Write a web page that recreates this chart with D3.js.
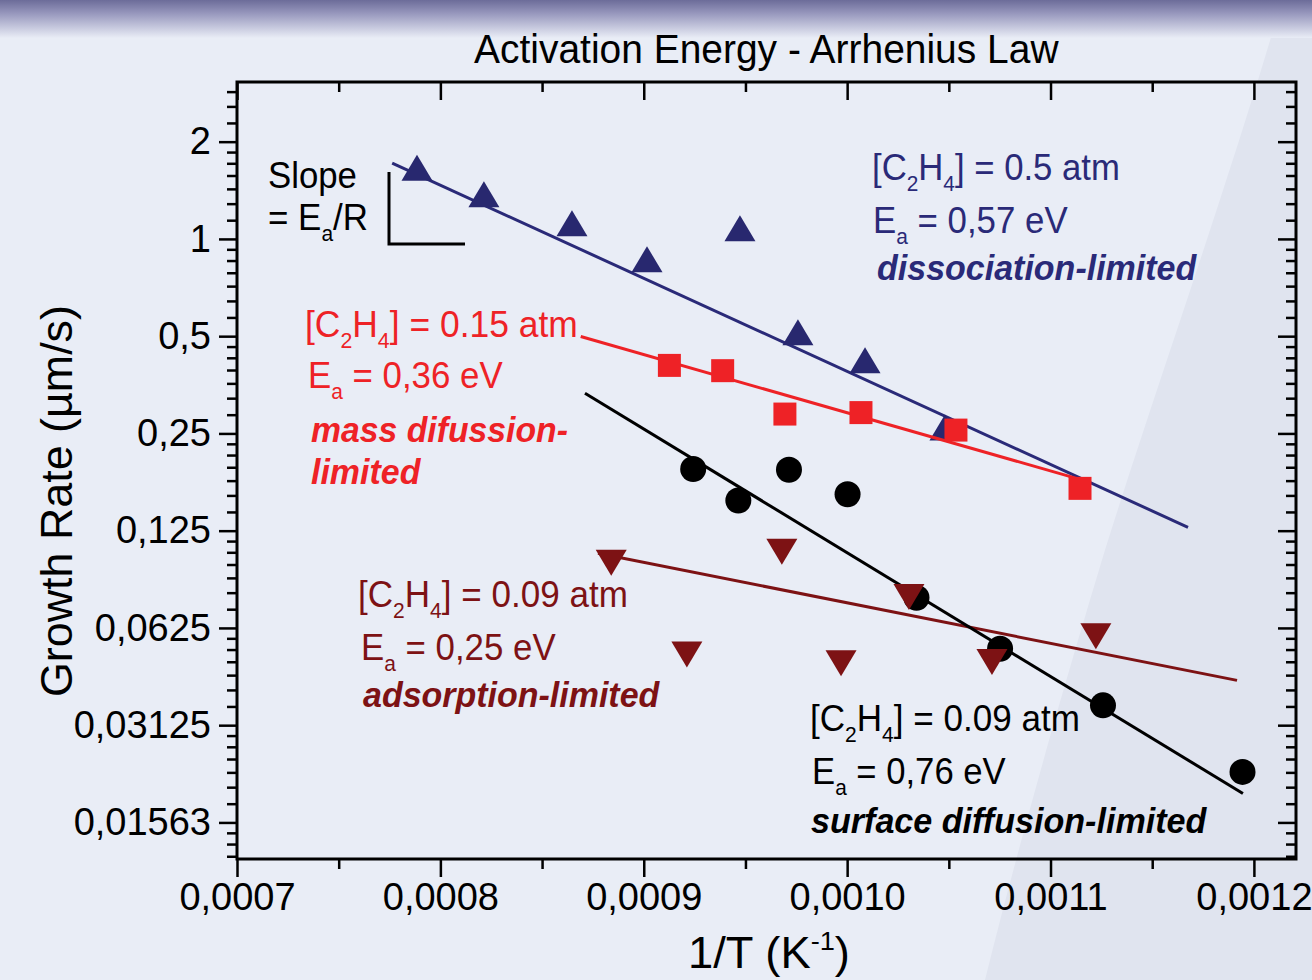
<!DOCTYPE html>
<html>
<head>
<meta charset="utf-8">
<script src="https://cdn.jsdelivr.net/npm/d3@7"></script>
<style>
  html, body { margin: 0; padding: 0; }
  body { width: 1312px; height: 980px; overflow: hidden; background: #e9edf6; }
  svg { display: block; font-family: "Liberation Sans", Arial, Helvetica, sans-serif; }
</style>
</head>
<body>
<svg id="chart" width="1312" height="980"></svg>
<script>
// ── Data (x = 1/T in K^-1, y = growth rate in µm/s) ──
const dissocX = [0.0007885, 0.0008214, 0.0008647, 0.0009016, 0.0009473, 0.0009758, 0.0010088, 0.0010481];
const dissocY = [1.662, 1.375, 1.118, 0.865, 1.079, 0.514, 0.421, 0.261];
const massX   = [0.0009126, 0.0009388, 0.0009694, 0.0010068, 0.0010535, 0.0011145];
const massY   = [0.406, 0.391, 0.287, 0.290, 0.256, 0.169];
const surfX   = [0.0009243, 0.0009465, 0.0009714, 0.0010002, 0.0010341, 0.0010752, 0.0011258, 0.0011944];
const surfY   = [0.194, 0.155, 0.193, 0.162, 0.0775, 0.0539, 0.0360, 0.0224];
const adsX    = [0.000884, 0.0009212, 0.0009679, 0.000997, 0.0010304, 0.0010712, 0.0011223];
const adsY    = [0.0994, 0.0517, 0.1076, 0.0486, 0.0779, 0.0490, 0.0589];

// Arrhenius fit lines (end points)
const dissocFitX = [0.0007763, 0.0011676], dissocFitY = [1.716, 0.128];
const massFitX   = [0.000869, 0.0011145],  massFitY   = [0.4986, 0.1802];
const surfFitX   = [0.0008711, 0.0011946], surfFitY   = [0.333, 0.0192];
const adsFitX    = [0.0008775, 0.0011917], adsFitY    = [0.1064, 0.043];

// Axis ticks
const xTicks      = [0.0007, 0.0008, 0.0009, 0.0010, 0.0011, 0.0012];
const xTickLabels = ["0,0007", "0,0008", "0,0009", "0,0010", "0,0011", "0,0012"];
const xMinor      = [0.00075, 0.00085, 0.00095, 0.00105, 0.00115];
const yTicks      = [2, 1, 0.5, 0.25, 0.125, 0.0625, 0.03125, 0.015625];
const yTickLabels = ["2", "1", "0,5", "0,25", "0,125", "0,0625", "0,03125", "0,01563"];

// Annotation lines: [x, baseline, width, parts]
const BLUE = "#2a2a78", RED = "#ee2226", DRED = "#7d1214", BLACK = "#000";
const conc = v => [["[C"], ["2", "sub"], ["H"], ["4", "sub"], ["] = " + v + " atm"]];
const ea   = v => [["E"], ["a", "sub"], [" = " + v + " eV"]];
const notes = [
  { color: BLACK, x: 268, y: 188, w: 89,  parts: [["Slope"]] },
  { color: BLACK, x: 268, y: 230, w: 100, parts: [["= E"], ["a", "sub"], ["/R"]] },
  { color: BLUE, x: 872, y: 180, w: 248, parts: conc("0.5") },
  { color: BLUE, x: 873, y: 233, w: 195, parts: ea("0,57") },
  { color: BLUE, x: 877, y: 280, w: 320, bold: true, parts: [["dissociation-limited"]] },
  { color: RED, x: 305, y: 337, w: 273, parts: conc("0.15") },
  { color: RED, x: 308, y: 388, w: 195, parts: ea("0,36") },
  { color: RED, x: 311, y: 442, w: 257, bold: true, parts: [["mass difussion-"]] },
  { color: RED, x: 311, y: 484, w: 110, bold: true, parts: [["limited"]] },
  { color: DRED, x: 358, y: 607, w: 270, parts: conc("0.09") },
  { color: DRED, x: 361, y: 660, w: 195, parts: ea("0,25") },
  { color: DRED, x: 363, y: 707, w: 297, bold: true, parts: [["adsorption-limited"]] },
  { color: BLACK, x: 810, y: 731, w: 270, parts: conc("0.09") },
  { color: BLACK, x: 812, y: 784, w: 194, parts: ea("0,76") },
  { color: BLACK, x: 811, y: 833, w: 396, bold: true, parts: [["surface diffusion-limited"]] }
];

const svg = d3.select("#chart");

// ── Background: slide gradient + diagonal sheen ──
const defs = svg.append("defs");
const topGrad = defs.append("linearGradient").attr("id", "topband").attr("x1", 0).attr("y1", 0).attr("x2", 0).attr("y2", 1);
topGrad.append("stop").attr("offset", "0%").attr("stop-color", "#6c6c99");
topGrad.append("stop").attr("offset", "35%").attr("stop-color", "#9797bd");
topGrad.append("stop").attr("offset", "100%").attr("stop-color", "#e9edf6", 0);
svg.append("rect").attr("width", 1312).attr("height", 980).attr("fill", "#e9edf6");
svg.append("path")
  .attr("d", "M1282,0 L1312,0 L1312,980 L985,980 C1030,800 1075,650 1105,550 C1155,390 1230,180 1282,0 Z")
  .attr("fill", "#e0e4ef");
svg.append("rect").attr("width", 1312).attr("height", 38).attr("fill", "url(#topband)");

// ── Scales ──
const L = 237, R = 1296, T = 82, B = 859;
const x = d3.scaleLinear().domain([0.0007, 0.0012207]).range([L, R]);
const y = d3.scaleLog().base(2).domain([0.01204, 3.06]).range([B, T]);

// minor y ticks: 6 linear steps inside each octave
const yMinor = [];
[4, 2, 1, 0.5, 0.25, 0.125, 0.0625, 0.03125, 0.015625, 0.0078125].forEach(lo => {
  for (let j = 1; j <= 6; j++) {
    const v = lo * (1 + j / 7);
    if (v > 0.01204 && v < 3.06) yMinor.push(v);
  }
});

function styleAxis(g, withLabels) {
  g.select(".domain").remove();
  g.selectAll(".tick line").attr("stroke", "#000").attr("stroke-width", 2.5);
  g.selectAll(".tick text").attr("fill", "#000").style("font-size", "38px");
  if (!withLabels) g.selectAll(".tick text").remove();
}

// bottom (outward)
svg.append("g").attr("transform", `translate(0,${B})`)
  .call(d3.axisBottom(x).tickValues(xTicks).tickFormat((d, i) => xTickLabels[i]).tickSize(18).tickSizeOuter(0).tickPadding(6))
  .call(g => styleAxis(g, true));
svg.append("g").attr("transform", `translate(0,${B})`)
  .call(d3.axisBottom(x).tickValues(xMinor).tickSize(10).tickSizeOuter(0))
  .call(g => styleAxis(g, false));
// top (inward)
svg.append("g").attr("transform", `translate(0,${T})`)
  .call(d3.axisTop(x).tickValues(xTicks).tickSize(-18).tickSizeOuter(0))
  .call(g => styleAxis(g, false));
svg.append("g").attr("transform", `translate(0,${T})`)
  .call(d3.axisTop(x).tickValues(xMinor).tickSize(-10).tickSizeOuter(0))
  .call(g => styleAxis(g, false));
// left (outward)
svg.append("g").attr("transform", `translate(${L},0)`)
  .call(d3.axisLeft(y).tickValues(yTicks).tickFormat((d, i) => yTickLabels[i]).tickSize(18).tickSizeOuter(0).tickPadding(8))
  .call(g => styleAxis(g, true));
svg.append("g").attr("transform", `translate(${L},0)`)
  .call(d3.axisLeft(y).tickValues(yMinor).tickFormat("").tickSize(10).tickSizeOuter(0))
  .call(g => styleAxis(g, false));
// right (inward)
svg.append("g").attr("transform", `translate(${R},0)`)
  .call(d3.axisRight(y).tickValues(yTicks).tickFormat("").tickSize(-18).tickSizeOuter(0))
  .call(g => styleAxis(g, false));
svg.append("g").attr("transform", `translate(${R},0)`)
  .call(d3.axisRight(y).tickValues(yMinor).tickFormat("").tickSize(-10).tickSizeOuter(0))
  .call(g => styleAxis(g, false));

// frame
svg.append("rect").attr("x", L).attr("y", T).attr("width", R - L).attr("height", B - T)
  .attr("fill", "none").attr("stroke", "#000").attr("stroke-width", 3);

// ── Series ──
const plot = svg.append("g");
const line = d3.line().x(d => x(d[0])).y(d => y(d[1]));

function fit(xs, ys, color) {
  plot.append("path").datum(xs.map((v, i) => [v, ys[i]]))
    .attr("d", line).attr("fill", "none").attr("stroke", color).attr("stroke-width", 3);
}
function points(xs, ys, shape, color) {
  const pts = xs.map((v, i) => [v, ys[i]]);
  const sel = plot.append("g").selectAll("path").data(pts).join("path")
    .attr("transform", d => `translate(${x(d[0])},${y(d[1])})`)
    .attr("fill", color);
  if (shape === "up") sel.attr("d", "M0,-13L15.5,13L-15.5,13Z");
  if (shape === "down") sel.attr("d", "M0,13L15.5,-13L-15.5,-13Z");
  if (shape === "square") sel.attr("d", "M-11.5,-11.5H11.5V11.5H-11.5Z");
  if (shape === "circle") sel.attr("d", d3.symbol(d3.symbolCircle, Math.PI * 13 * 13)());
}

fit(dissocFitX, dissocFitY, BLUE);
points(dissocX, dissocY, "up", "#28286f");
fit(massFitX, massFitY, RED);
points(massX, massY, "square", RED);
fit(adsFitX, adsFitY, DRED);
fit(surfFitX, surfFitY, BLACK);
points(surfX, surfY, "circle", BLACK);
points(adsX, adsY, "down", DRED);

// slope bracket
svg.append("path").attr("d", "M389,172V244H465").attr("fill", "none").attr("stroke", "#000").attr("stroke-width", 3);

// ── Text helper: writes parts, then squeezes to the measured width ──
function fitText(parent, tx, ty, parts, width, opt) {
  const t = parent.append("text")
    .attr("fill", opt.color || "#000")
    .style("font-size", opt.size + "px")
    .style("font-weight", opt.bold ? "bold" : "normal")
    .style("font-style", opt.bold ? "italic" : "normal");
  let shift = 0;
  parts.forEach(([s, kind]) => {
    const target = kind === "sub" ? opt.size * 0.3 : kind === "sup" ? -opt.size * 0.42 : 0;
    const sp = t.append("tspan").attr("dy", target - shift).text(s);
    if (kind) sp.style("font-size", (opt.size * 0.6) + "px");
    shift = target;
  });
  const bb = t.node().getBBox();
  const k = width / bb.width;
  t.attr("transform", `translate(${tx - bb.x * k},${ty}) scale(${k},1)`);
  return t;
}

notes.forEach(n => fitText(svg, n.x, n.y, n.parts, n.w, { color: n.color, size: n.bold ? 35 : 37, bold: n.bold }));

// title
fitText(svg, 474, 63, [["Activation Energy - Arrhenius Law"]], 585, { size: 41 });
// x axis title
fitText(svg, 688, 968, [["1/T (K"], ["-1", "sup"], [")"]], 162, { size: 44 });
// y axis title (rotated)
const yt = svg.append("g").attr("transform", "translate(72,697) rotate(-90)");
fitText(yt, 0, 0, [["Growth Rate (µm/s)"]], 392, { size: 45 });
</script>
</body>
</html>
